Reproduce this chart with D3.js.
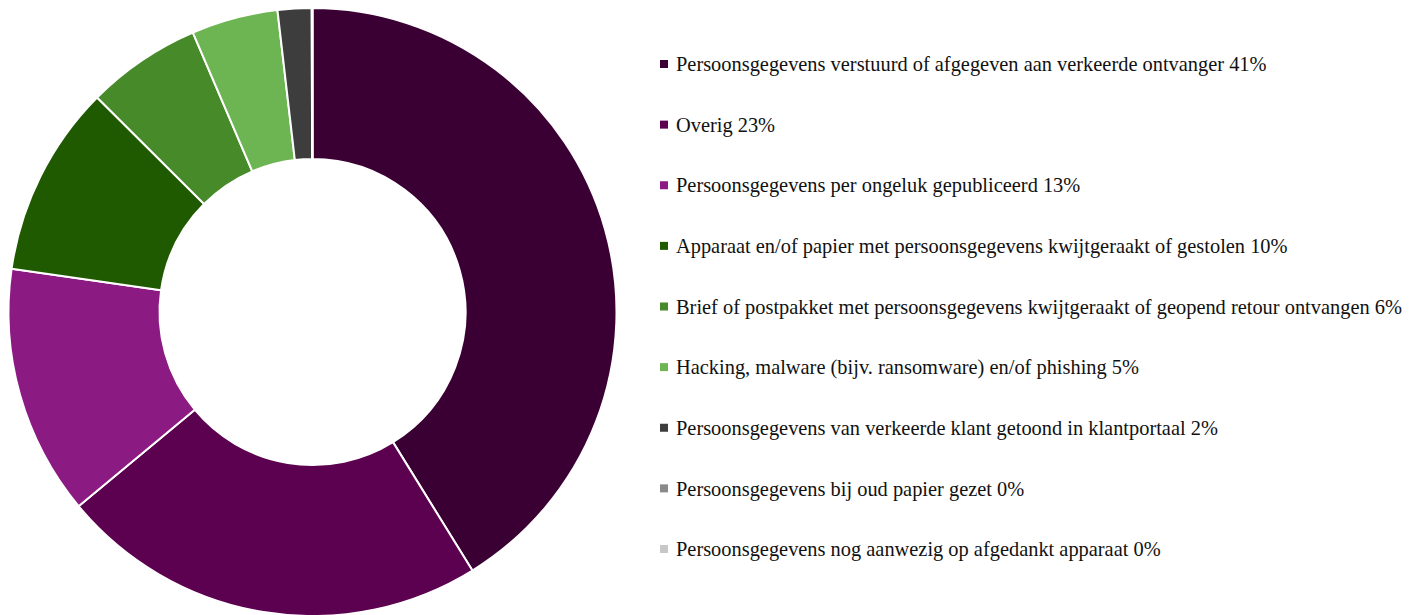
<!DOCTYPE html>
<html>
<head>
<meta charset="utf-8">
<title>Datalekken naar soort</title>
<script src="https://d3js.org/d3.v7.min.js"></script>
<style>
  body { margin: 0; background: #fff; }
  svg { display: block; }
  .legend text { font-family: "Liberation Serif", "DejaVu Serif", serif; }
</style>
</head>
<body>
<script>
  // categories and their shares (percent)
  var categories = [
    "Persoonsgegevens verstuurd of afgegeven aan verkeerde ontvanger",
    "Overig",
    "Persoonsgegevens per ongeluk gepubliceerd",
    "Apparaat en/of papier met persoonsgegevens kwijtgeraakt of gestolen",
    "Brief of postpakket met persoonsgegevens kwijtgeraakt of geopend retour ontvangen",
    "Hacking, malware (bijv. ransomware) en/of phishing",
    "Persoonsgegevens van verkeerde klant getoond in klantportaal",
    "Persoonsgegevens bij oud papier gezet",
    "Persoonsgegevens nog aanwezig op afgedankt apparaat"
  ];
  var values = [41.2, 22.8, 13.3, 10.2, 6.1, 4.6, 1.8, 0.02, 0.02];
  var labels = ["41%", "23%", "13%", "10%", "6%", "5%", "2%", "0%", "0%"];
  var colors = ["#3a0033", "#5c0050", "#8b1a83", "#1f5a00", "#468a29",
                "#6db553", "#3d3d3d", "#8a8a8a", "#c8c8c8"];

  var width = 1409, height = 615;
  var cx = 312.5, cy = 312, outerR = 304, innerR = 153;

  var svg = d3.select("body").append("svg")
      .attr("width", width)
      .attr("height", height);

  var data = categories.map(function(c, i) {
    return {name: c, value: values[i], label: labels[i], color: colors[i]};
  });

  // donut
  var pie = d3.pie().sort(null).value(function(d) { return d.value; });
  var arc = d3.arc().innerRadius(innerR).outerRadius(outerR);

  svg.append("g")
      .attr("transform", "translate(" + cx + "," + cy + ")")
    .selectAll("path")
    .data(pie(data))
    .join("path")
      .attr("d", arc)
      .attr("fill", function(d) { return d.data.color; })
      .attr("stroke", "#fff")
      .attr("stroke-width", 2)
      .attr("stroke-linejoin", "bevel");

  // legend
  var y = d3.scalePoint().domain(d3.range(data.length)).range([64, 549]);

  var legend = svg.append("g").attr("class", "legend").selectAll("g")
    .data(data)
    .join("g")
      .attr("transform", function(d, i) { return "translate(660," + y(i) + ")"; });

  legend.append("rect")
      .attr("x", 0).attr("y", -4)
      .attr("width", 8).attr("height", 8)
      .attr("fill", function(d) { return d.color; });

  legend.append("text")
      .attr("x", 16)
      .attr("dy", "0.35em")
      .style("font-size", "20.4px")
      .attr("fill", "#111")
      .text(function(d) { return d.name + " " + d.label; });
</script>
</body>
</html>
